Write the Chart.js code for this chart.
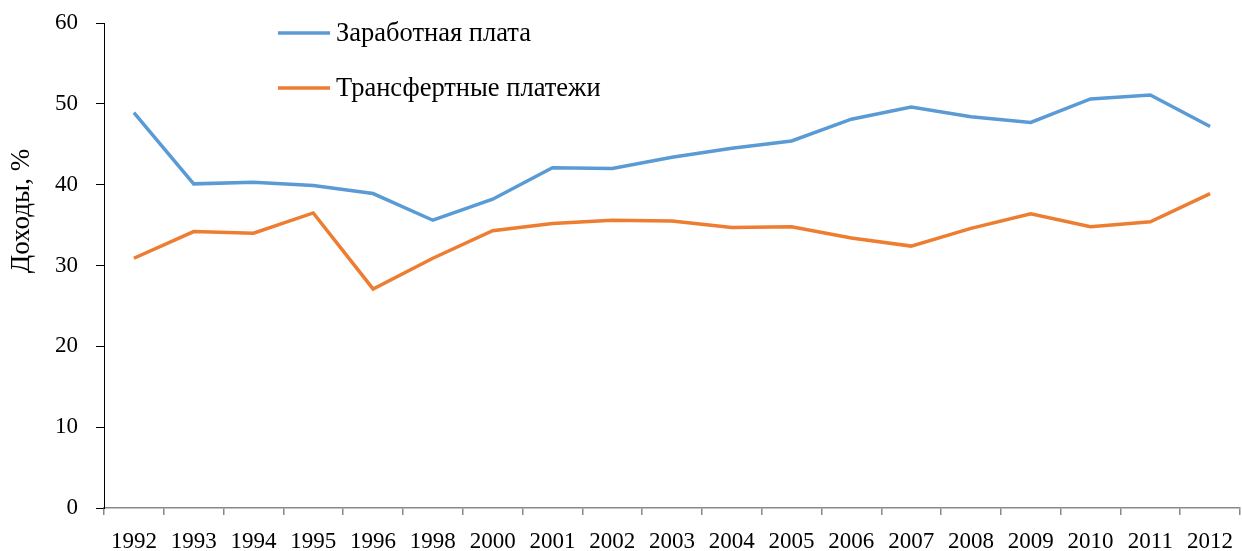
<!DOCTYPE html>
<html>
<head>
<meta charset="utf-8">
<script src="https://cdn.jsdelivr.net/npm/chart.js@4/dist/chart.umd.min.js"></script>
<style>
html,body{margin:0;padding:0;background:#fff;}
#wrap{width:1242px;height:551px;position:relative;}
</style>
</head>
<body>
<div id="wrap"><canvas id="c" width="1242" height="551"></canvas></div>
<script>
const years = ['1992','1993','1994','1995','1996','1998','2000','2001','2002','2003','2004','2005','2006','2007','2008','2009','2010','2011','2012'];
const wages = [48.9,40.1,40.3,39.9,38.9,35.6,38.2,42.1,42.0,43.4,44.5,45.4,48.1,49.6,48.4,47.7,50.6,51.1,47.2];
const transfers = [30.9,34.2,34.0,36.5,27.1,30.9,34.3,35.2,35.6,35.5,34.7,34.8,33.4,32.4,34.6,36.4,34.8,35.4,38.9];
const seriesNames = ['Заработная плата','Трансфертные платежи'];
const yTitle = 'Доходы, %';

const FONT = '"Liberation Serif", "DejaVu Serif", serif';

const legendPlugin = {
  id: 'insideLegend',
  afterDraw(chart) {
    const ctx = chart.ctx;
    ctx.save();
    chart.data.datasets.forEach((ds, i) => {
      const y = 33 + i * 55;
      ctx.strokeStyle = ds.borderColor;
      ctx.lineWidth = 3.5;
      ctx.beginPath();
      ctx.moveTo(278, y);
      ctx.lineTo(330, y);
      ctx.stroke();
      ctx.fillStyle = '#000';
      ctx.font = '26.5px ' + FONT;
      ctx.textBaseline = 'middle';
      ctx.textAlign = 'left';
      ctx.fillText(ds.label, 336, y + 1);
    });
    // y-axis title
    ctx.translate(22, 211);
    ctx.rotate(-Math.PI / 2);
    ctx.font = '27px ' + FONT;
    ctx.textAlign = 'center';
    ctx.textBaseline = 'middle';
    ctx.fillText(yTitle, 0, 0);
    ctx.restore();
  }
};

new Chart(document.getElementById('c'), {
  type: 'line',
  data: {
    labels: years,
    datasets: [
      {label: seriesNames[0], data: wages, borderColor: '#5B9BD5', backgroundColor: '#5B9BD5', borderWidth: 3.5, pointRadius: 0, tension: 0},
      {label: seriesNames[1], data: transfers, borderColor: '#ED7D31', backgroundColor: '#ED7D31', borderWidth: 3.5, pointRadius: 0, tension: 0}
    ]
  },
  options: {
    responsive: false,
    animation: false,
    layout: {padding: {left: 37, right: 2, top: 23, bottom: 0}},
    plugins: {legend: {display: false}, tooltip: {enabled: false}},
    scales: {
      x: {
        offset: true,
        afterFit(scale) { scale.height = 43; scale.paddingLeft = 0; scale.paddingRight = 0; },
        grid: {offset: true, drawOnChartArea: false, drawTicks: true, tickLength: 7, color: '#888', lineWidth: 1.5},
        border: {color: '#888', width: 1.5},
        ticks: {color: '#000', font: {family: FONT, size: 23}, padding: 13, maxRotation: 0, autoSkip: false}
      },
      y: {
        min: 0, max: 60,
        afterFit(scale) { scale.paddingTop = 0; scale.paddingBottom = 0; },
        ticks: {stepSize: 10, color: '#000', font: {family: FONT, size: 23}, padding: 18},
        grid: {drawOnChartArea: false, drawTicks: true, tickLength: 8, color: '#000'},
        border: {color: '#000', width: 1},
        title: {display: false}
      }
    }
  },
  plugins: [legendPlugin]
});
</script>
</body>
</html>
